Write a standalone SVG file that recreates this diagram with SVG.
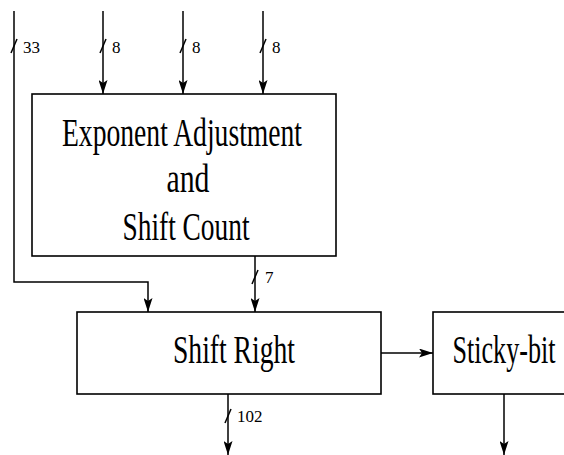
<svg xmlns="http://www.w3.org/2000/svg" width="564" height="455" viewBox="0 0 564 455">
  <style>
    .box { fill: #ffffff; stroke: #000000; stroke-width: 1.6; }
    .wire { fill: none; stroke: #000000; stroke-width: 1.5; }
    .tick { fill: none; stroke: #000000; stroke-width: 1.5; }
    .title { font-family: "Liberation Serif", "DejaVu Serif", serif; font-size: 40px; fill: #000000; text-anchor: middle; }
    .width { font-family: "Liberation Serif", "DejaVu Serif", serif; font-size: 17px; fill: #000000; }
  </style>
  <defs>
    <marker id="arrow" viewBox="0 0 14 9" markerWidth="14" markerHeight="9" refX="14" refY="4.5" orient="auto" markerUnits="userSpaceOnUse">
      <path d="M0,0 L14,4.5 L0,9 L3,4.5 z" fill="#000000"/>
    </marker>
  </defs>

  <rect width="564" height="455" fill="#ffffff"/>

  <!-- Wires and bus-width ticks -->
  <g id="connectors">
    <!-- 33-bit bypass into the shifter -->
    <polyline class="wire" points="14,11 14,282 148,282 148,312" marker-end="url(#arrow)"/>
    <line class="tick" x1="11" y1="53" x2="17" y2="39"/>
    <text class="width" x="23" y="53">33</text>

    <!-- three 8-bit exponent inputs -->
    <line class="wire" x1="103" y1="11" x2="103" y2="94" marker-end="url(#arrow)"/>
    <line class="tick" x1="100" y1="53" x2="106" y2="39"/>
    <text class="width" x="112" y="53">8</text>

    <line class="wire" x1="183" y1="11" x2="183" y2="94" marker-end="url(#arrow)"/>
    <line class="tick" x1="180" y1="53" x2="186" y2="39"/>
    <text class="width" x="192" y="53">8</text>

    <line class="wire" x1="263" y1="11" x2="263" y2="94" marker-end="url(#arrow)"/>
    <line class="tick" x1="260" y1="53" x2="266" y2="39"/>
    <text class="width" x="272" y="53">8</text>

    <!-- 7-bit shift count -->
    <line class="wire" x1="255" y1="256" x2="255" y2="312" marker-end="url(#arrow)"/>
    <line class="tick" x1="252" y1="284" x2="258" y2="270"/>
    <text class="width" x="265" y="283">7</text>

    <!-- shifter to sticky-bit -->
    <line class="wire" x1="381" y1="353" x2="433" y2="353" marker-end="url(#arrow)"/>

    <!-- 102-bit shifted output -->
    <line class="wire" x1="228" y1="394" x2="228" y2="455" marker-end="url(#arrow)"/>
    <line class="tick" x1="225" y1="423" x2="231" y2="409"/>
    <text class="width" x="237" y="422">102</text>

    <!-- sticky-bit output -->
    <line class="wire" x1="504" y1="394" x2="504" y2="455" marker-end="url(#arrow)"/>
  </g>

  <g id="exponent-adjustment">
    <rect class="box" x="32" y="94" width="304" height="162"/>
    <text class="title" x="182" y="146" textLength="240" lengthAdjust="spacingAndGlyphs">Exponent Adjustment</text>
    <text class="title" x="188" y="192" textLength="43" lengthAdjust="spacingAndGlyphs">and</text>
    <text class="title" x="186" y="240" textLength="127" lengthAdjust="spacingAndGlyphs">Shift Count</text>
  </g>

  <g id="shift-right">
    <rect class="box" x="77" y="312" width="304" height="82"/>
    <text class="title" x="234" y="363" textLength="122" lengthAdjust="spacingAndGlyphs">Shift Right</text>
  </g>

  <g id="sticky-bit">
    <rect class="box" x="433" y="312" width="140" height="82"/>
    <text class="title" x="504" y="363" textLength="103" lengthAdjust="spacingAndGlyphs">Sticky-bit</text>
  </g>
</svg>
